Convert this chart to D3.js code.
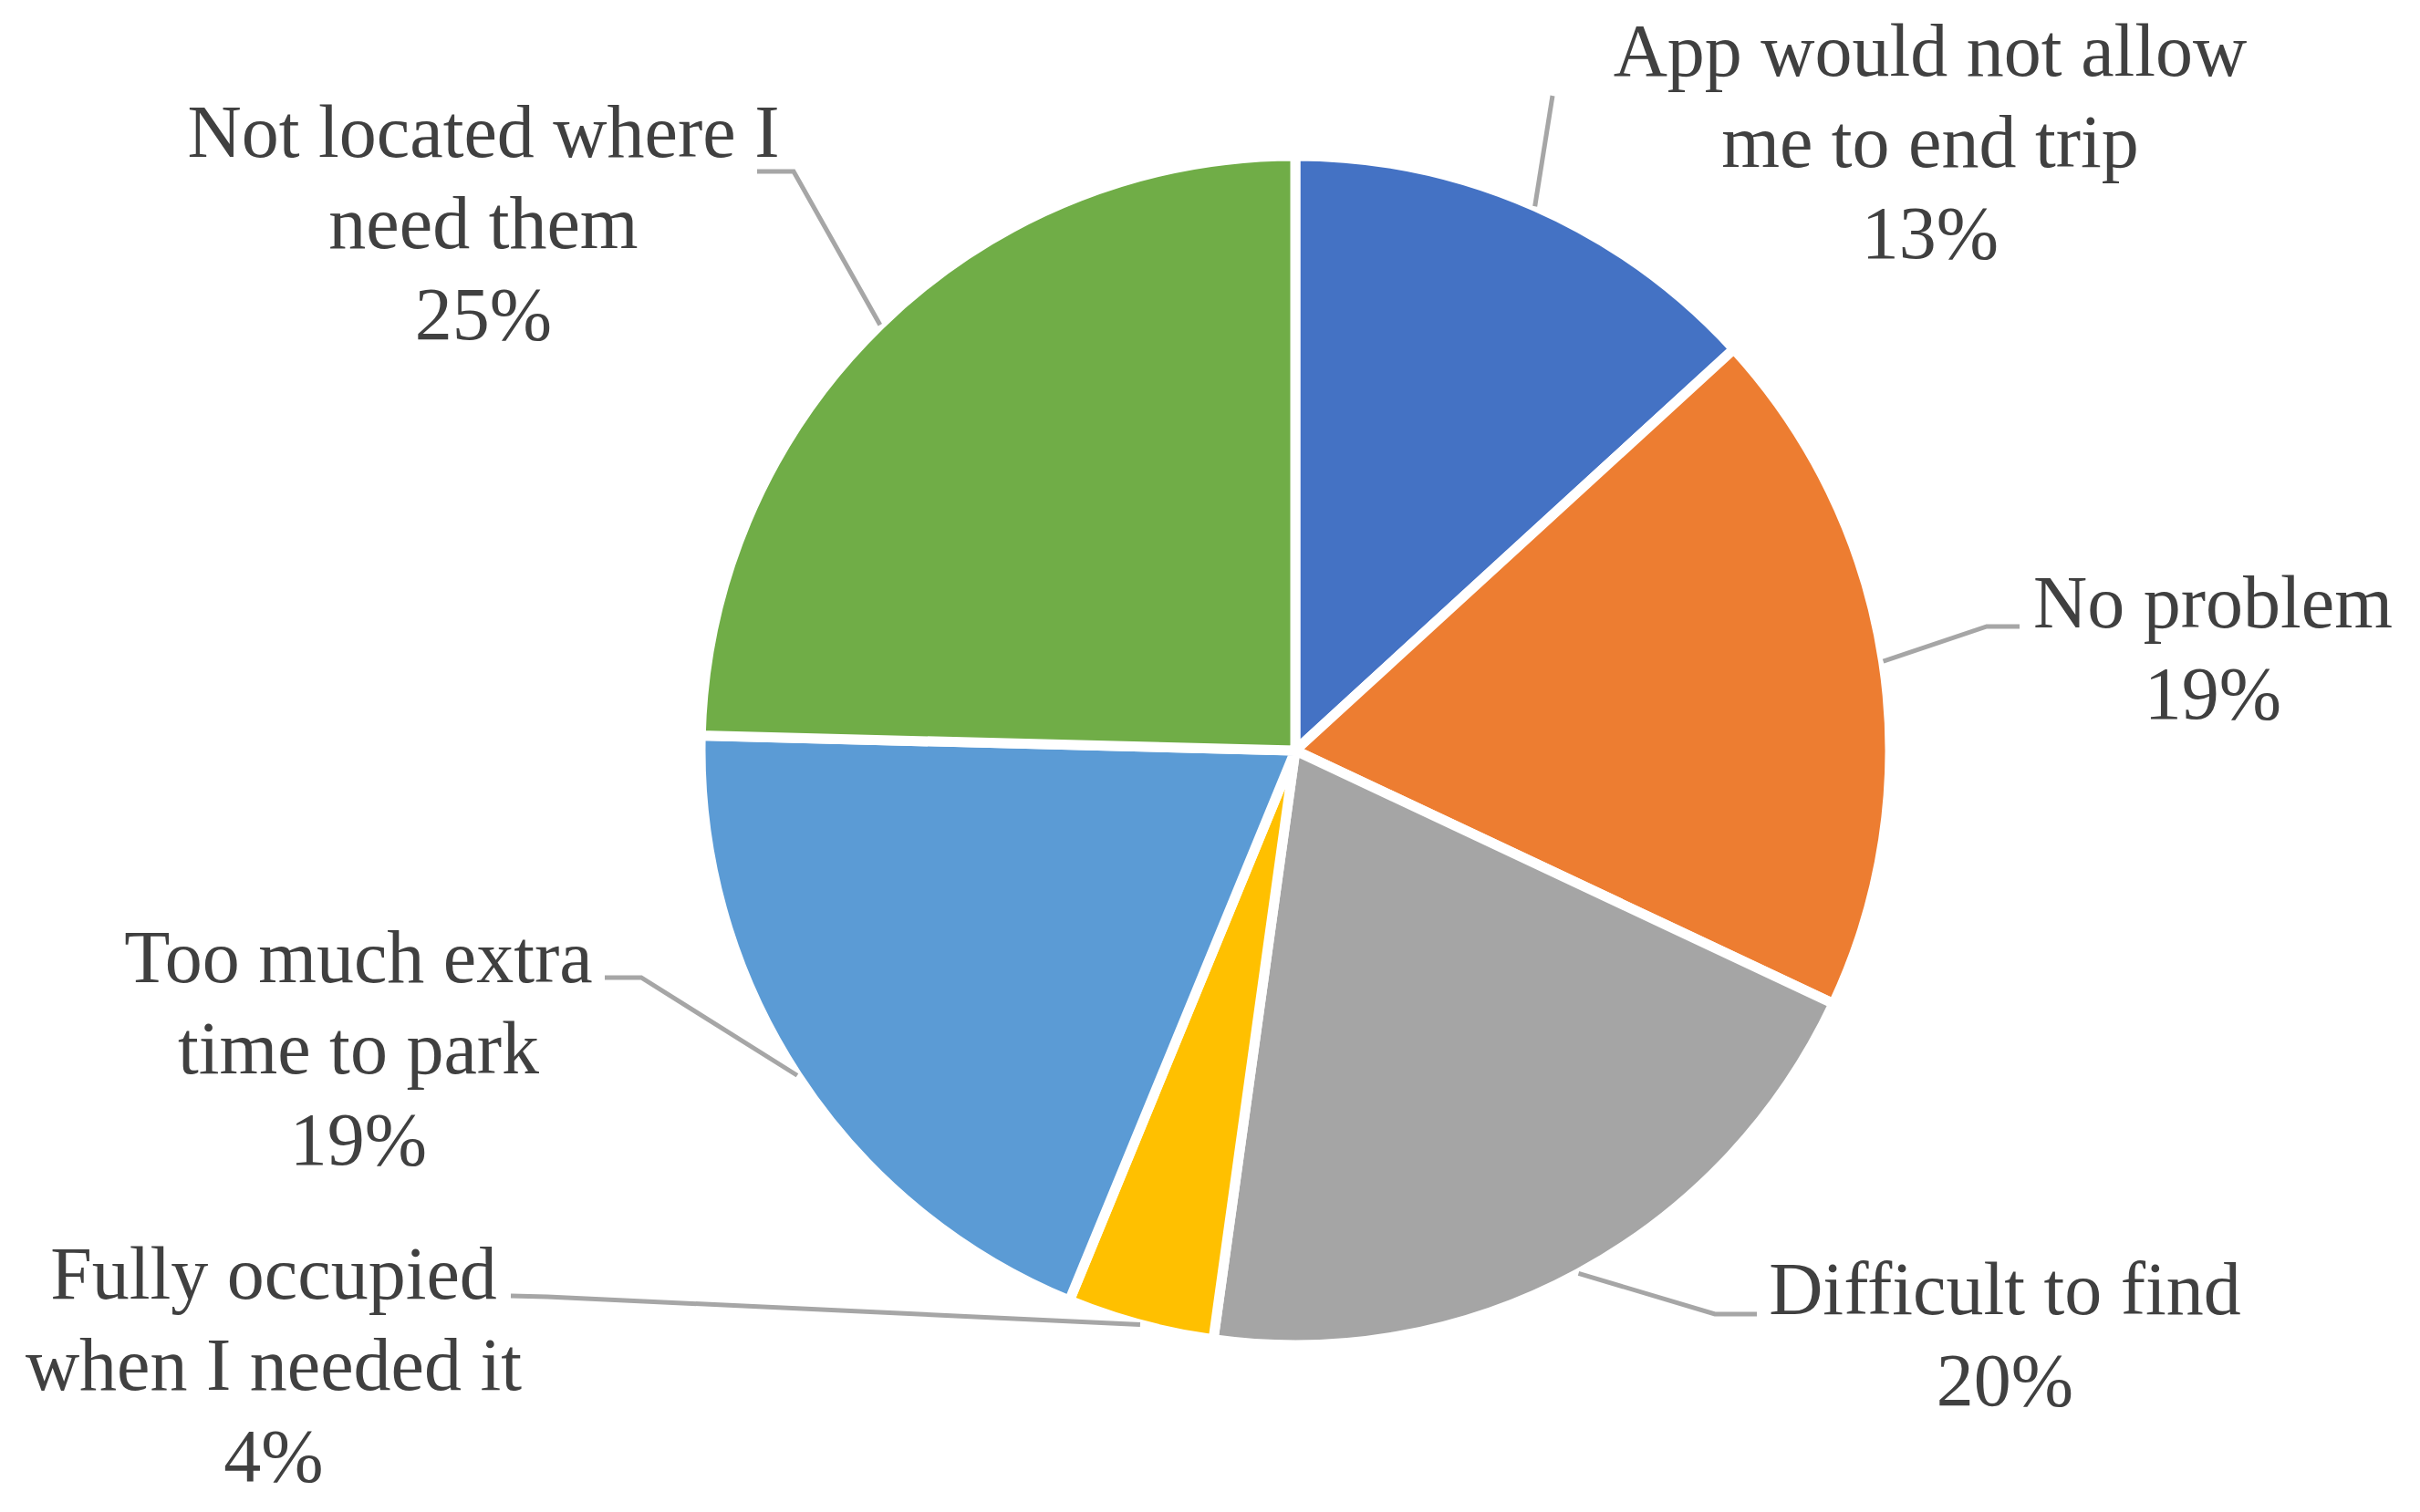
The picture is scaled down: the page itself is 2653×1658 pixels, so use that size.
<!DOCTYPE html>
<html>
<head>
<meta charset="utf-8">
<script src="https://cdn.jsdelivr.net/npm/d3@7"></script>
<style>
  body { margin: 0; background: #fff; }
  .slice { stroke: #fff; stroke-width: 11; }
  .leader { fill: none; stroke: #a6a6a6; stroke-width: 5; }
  .label { font-family: "Liberation Serif", serif; font-size: 82px; fill: #404040; }
</style>
</head>
<body>
<div id="container"></div>
<script>
// slices, clockwise from 12 o'clock
var categories = ["App would not allow me to end trip",
                  "No problem",
                  "Difficult to find",
                  "Fully occupied when I needed it",
                  "Too much extra time to park",
                  "Not located where I need them"];
var values = [13.2, 18.8, 20.2, 4.0, 19.2, 24.6];
// how each category name is broken over lines
var labelLines = [["App would not allow", "me to end trip"],
                  ["No problem"],
                  ["Difficult to find"],
                  ["Fully occupied", "when I needed it"],
                  ["Too much extra", "time to park"],
                  ["Not located where I", "need them"]];

var sliceColors = ["#4472c4", "#ed7d31", "#a5a5a5", "#ffc000", "#5b9bd5", "#70ad47"];

// label placement: centre x and first baseline, plus the leader's label-side points
var labelPos = [[2116, 83], [2426, 688], [2198, 1441], [300, 1424], [393, 1077], [530, 172]];
var leaderPts = [[[1702, 105]],
                 [[2214, 687], [2178, 687]],
                 [[1926, 1441], [1880, 1441]],
                 [[560, 1421], [600, 1422]],
                 [[663, 1072], [703, 1072]],
                 [[830, 188], [870, 188]]];

function createChart() {
  var chartWidth = 2653, chartHeight = 1658;
  var cx = 1420, cy = 823, radius = 652, lineStep = 100;

  var chart = d3.select("#container").
  append("svg").
  attr("width", chartWidth).
  attr("height", chartHeight);

  var total = d3.sum(values);
  var pie = d3.pie().sort(null).value(function (d) {return d;});
  var slices = pie(values);
  var arc = d3.arc().innerRadius(0).outerRadius(radius);
  // zero-width arc, used to find the point on the rim at each slice's middle
  var rim = d3.arc().innerRadius(radius).outerRadius(radius);

  var pieGroup = chart.append("g").
  attr("transform", "translate(" + cx + "," + cy + ")");

  pieGroup.selectAll("path").
  data(slices).
  enter().
  append("path").
  attr("class", "slice").
  attr("fill", function (d, i) {return sliceColors[i];}).
  attr("d", arc);

  // leader lines
  var line = d3.line();
  chart.selectAll(".leader").
  data(slices).
  enter().
  append("path").
  attr("class", "leader").
  attr("d", function (d, i) {
    var c = rim.centroid(d);
    var pts = leaderPts[i].slice();
    pts.push([cx + c[0], cy + c[1]]);
    return line(pts);
  });

  // labels: name lines then the rounded percentage
  var labels = chart.selectAll(".label").
  data(slices).
  enter().
  append("text").
  attr("class", "label").
  attr("text-anchor", "middle").
  attr("x", function (d, i) {return labelPos[i][0];}).
  attr("y", function (d, i) {return labelPos[i][1];});

  labels.each(function (d, i) {
    var t = d3.select(this);
    var lines = labelLines[i].concat([Math.round(d.value / total * 100) + "%"]);
    lines.forEach(function (s, j) {
      t.append("tspan").
      attr("x", labelPos[i][0]).
      attr("y", labelPos[i][1] + j * lineStep).
      text(s);
    });
  });
}

window.onload = createChart;
</script>
</body>
</html>
